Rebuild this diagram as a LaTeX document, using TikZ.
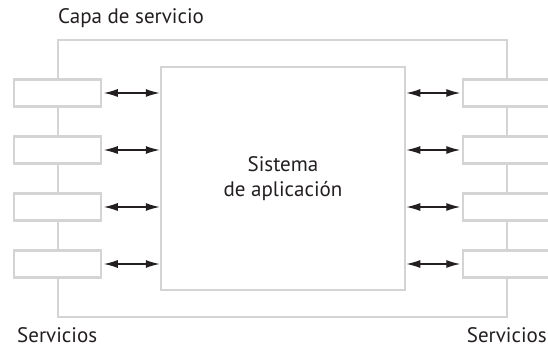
\documentclass[tikz,border=0pt]{standalone}
\usepackage{fontspec}
\setmainfont{PT Sans}
\usepackage{tikz}
\usetikzlibrary{arrows.meta,positioning}
\definecolor{framegray}{RGB}{212,212,212}
\definecolor{inkblack}{RGB}{35,31,32}

\begin{document}
\begin{tikzpicture}[
  x=1pt,y=-1pt,
  every node/.style={text=inkblack},
  label/.style={font=\fontsize{21}{25}\selectfont,inner sep=0pt},
  layer/.style={draw=framegray,line width=2.5pt},
  service/.style={draw=framegray,line width=2.5pt,fill=white,minimum width=87pt,minimum height=27pt,inner sep=0pt},
  appsystem/.style={draw=framegray,line width=2.5pt,fill=white,minimum width=244pt,minimum height=223pt,inner sep=0pt,align=center,font=\fontsize{21}{25}\selectfont},
  arrow/.style={{Latex[length=14pt,width=8pt]}-{Latex[length=14pt,width=8pt]},draw=inkblack,line width=1.3pt}
]
  \useasboundingbox (0,0) rectangle (548,347);

  % service layer frame
  \coordinate (framenw) at (58,40);
  \coordinate (framese) at (507,317);
  \draw[layer] (framenw) rectangle (framese);

  \node[appsystem] (app) at (283,178.5) {Sistema\\de aplicación};

  \foreach \i/\y in {1/93,2/150,3/207,4/264} {
    \node[service] (l\i) at (57.5,\y) {};
    \node[service] (r\i) at (506.5,\y) {};
    \draw[arrow,shorten <=1.5pt] (l\i.east) -- (l\i.east -| app.west);
    \draw[arrow,shorten <=1.5pt] (r\i.west) -- (r\i.west -| app.east);
  }

  \node[label,anchor=base west] (layername) at (58,24) {Capa de servicio};
  \node[label,anchor=base west] (servleft) at (17,342) {Servicios};
  \node[label,anchor=base east] (servright) at (547,342) {Servicios};
\end{tikzpicture}
\end{document}
